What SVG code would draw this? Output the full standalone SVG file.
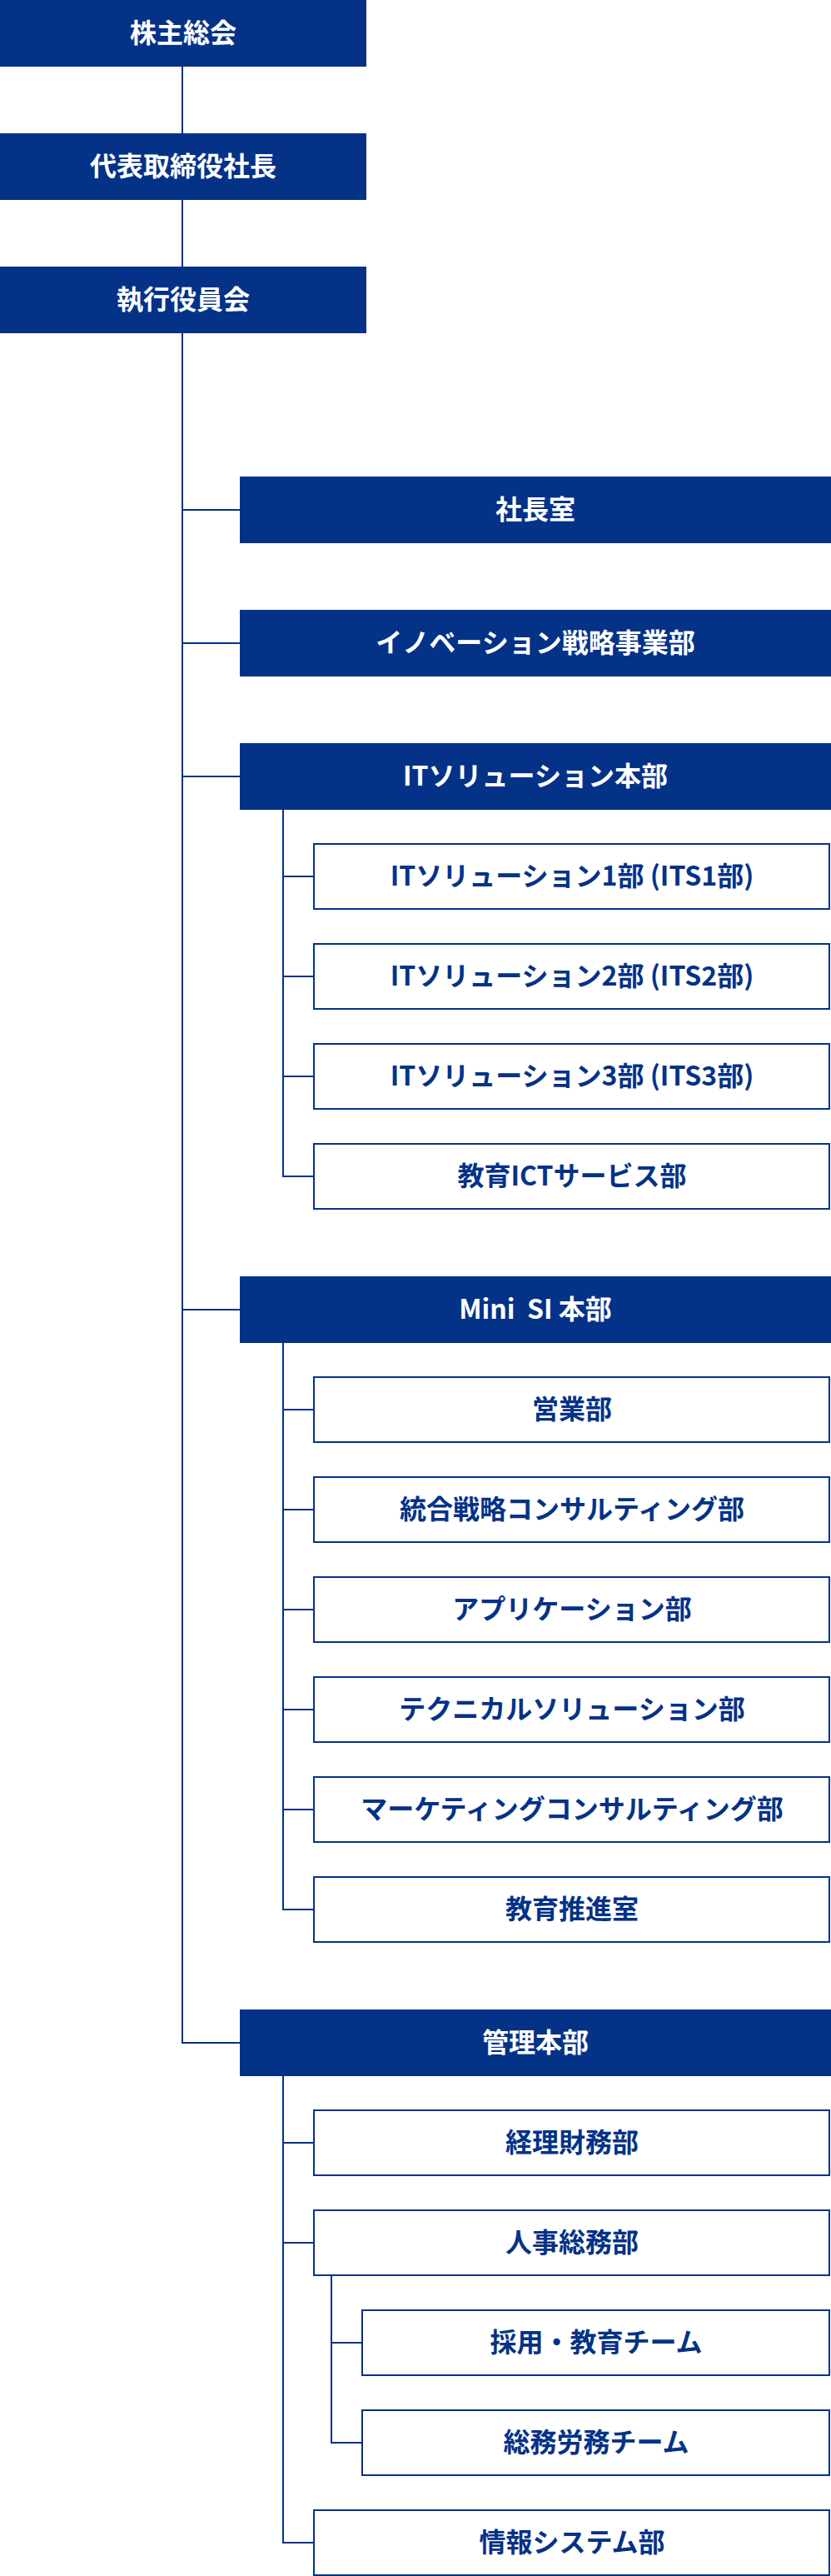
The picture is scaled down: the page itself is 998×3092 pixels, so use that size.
<svg xmlns="http://www.w3.org/2000/svg" width="998" height="3092" viewBox="0 0 998 3092">
<style>
.f{fill:#043287}
.o{fill:#ffffff;stroke:#043287;stroke-width:2}
.t{font-family:"Noto Sans CJK JP","Noto Sans",sans-serif;font-weight:bold;font-size:32px;text-anchor:middle;white-space:pre}
.tw{fill:#ffffff}
.tb{fill:#043287}
.c line{stroke:#043287;stroke-width:2}
</style>
<g class="c" id="connectors">
<line x1="219" y1="80" x2="219" y2="160"/>
<line x1="219" y1="240" x2="219" y2="320"/>
<line x1="219" y1="400" x2="219" y2="2453"/>
<line x1="219" y1="612" x2="288" y2="612"/>
<line x1="219" y1="772" x2="288" y2="772"/>
<line x1="219" y1="932" x2="288" y2="932"/>
<line x1="219" y1="1572" x2="288" y2="1572"/>
<line x1="219" y1="2452" x2="288" y2="2452"/>
<line x1="340" y1="972" x2="340" y2="1413"/>
<line x1="340" y1="1052" x2="377" y2="1052"/>
<line x1="340" y1="1172" x2="377" y2="1172"/>
<line x1="340" y1="1292" x2="377" y2="1292"/>
<line x1="340" y1="1412" x2="377" y2="1412"/>
<line x1="340" y1="1612" x2="340" y2="2293"/>
<line x1="340" y1="1692" x2="377" y2="1692"/>
<line x1="340" y1="1812" x2="377" y2="1812"/>
<line x1="340" y1="1932" x2="377" y2="1932"/>
<line x1="340" y1="2052" x2="377" y2="2052"/>
<line x1="340" y1="2172" x2="377" y2="2172"/>
<line x1="340" y1="2292" x2="377" y2="2292"/>
<line x1="340" y1="2492" x2="340" y2="3053"/>
<line x1="340" y1="2572" x2="377" y2="2572"/>
<line x1="340" y1="2692" x2="377" y2="2692"/>
<line x1="340" y1="3052" x2="377" y2="3052"/>
<line x1="398" y1="2732" x2="398" y2="2933"/>
<line x1="398" y1="2812" x2="435" y2="2812"/>
<line x1="398" y1="2932" x2="435" y2="2932"/>
</g>
<g id="n-kabunushi"><rect class="f" x="0" y="0" width="440" height="80"/><text class="t tw" x="220" y="51">株主総会</text></g>
<g id="n-ceo"><rect class="f" x="0" y="160" width="440" height="80"/><text class="t tw" x="220" y="211">代表取締役社長</text></g>
<g id="n-exec"><rect class="f" x="0" y="320" width="440" height="80"/><text class="t tw" x="220" y="371">執行役員会</text></g>
<g id="n-shachoshitsu"><rect class="f" x="288" y="572" width="710" height="80"/><text class="t tw" x="643" y="623">社長室</text></g>
<g id="n-innovation"><rect class="f" x="288" y="732" width="710" height="80"/><text class="t tw" x="643" y="783">イノベーション戦略事業部</text></g>
<g id="n-its"><rect class="f" x="288" y="892" width="710" height="80"/><text class="t tw" x="643" y="943">ITソリューション本部</text></g>
<g id="n-its1"><rect class="o" x="377" y="1013" width="619" height="78"/><text class="t tb" x="687" y="1063">ITソリューション1部 (ITS1部)</text></g>
<g id="n-its2"><rect class="o" x="377" y="1133" width="619" height="78"/><text class="t tb" x="687" y="1183">ITソリューション2部 (ITS2部)</text></g>
<g id="n-its3"><rect class="o" x="377" y="1253" width="619" height="78"/><text class="t tb" x="687" y="1303">ITソリューション3部 (ITS3部)</text></g>
<g id="n-edu-ict"><rect class="o" x="377" y="1373" width="619" height="78"/><text class="t tb" x="687" y="1423">教育ICTサービス部</text></g>
<g id="n-minisi"><rect class="f" x="288" y="1532" width="710" height="80"/><text class="t tw" x="643" y="1583">Mini  SI 本部</text></g>
<g id="n-sales"><rect class="o" x="377" y="1653" width="619" height="78"/><text class="t tb" x="687" y="1703">営業部</text></g>
<g id="n-strategy"><rect class="o" x="377" y="1773" width="619" height="78"/><text class="t tb" x="687" y="1823">統合戦略コンサルティング部</text></g>
<g id="n-app"><rect class="o" x="377" y="1893" width="619" height="78"/><text class="t tb" x="687" y="1943">アプリケーション部</text></g>
<g id="n-tech"><rect class="o" x="377" y="2013" width="619" height="78"/><text class="t tb" x="687" y="2063">テクニカルソリューション部</text></g>
<g id="n-marketing"><rect class="o" x="377" y="2133" width="619" height="78"/><text class="t tb" x="687" y="2183">マーケティングコンサルティング部</text></g>
<g id="n-edu"><rect class="o" x="377" y="2253" width="619" height="78"/><text class="t tb" x="687" y="2303">教育推進室</text></g>
<g id="n-admin"><rect class="f" x="288" y="2412" width="710" height="80"/><text class="t tw" x="643" y="2463">管理本部</text></g>
<g id="n-finance"><rect class="o" x="377" y="2533" width="619" height="78"/><text class="t tb" x="687" y="2583">経理財務部</text></g>
<g id="n-hr"><rect class="o" x="377" y="2653" width="619" height="78"/><text class="t tb" x="687" y="2703">人事総務部</text></g>
<g id="n-recruit"><rect class="o" x="435" y="2773" width="561" height="78"/><text class="t tb" x="716" y="2823">採用・教育チーム</text></g>
<g id="n-labor"><rect class="o" x="435" y="2893" width="561" height="78"/><text class="t tb" x="716" y="2943">総務労務チーム</text></g>
<g id="n-infosys"><rect class="o" x="377" y="3013" width="619" height="78"/><text class="t tb" x="687" y="3063">情報システム部</text></g>
</svg>
